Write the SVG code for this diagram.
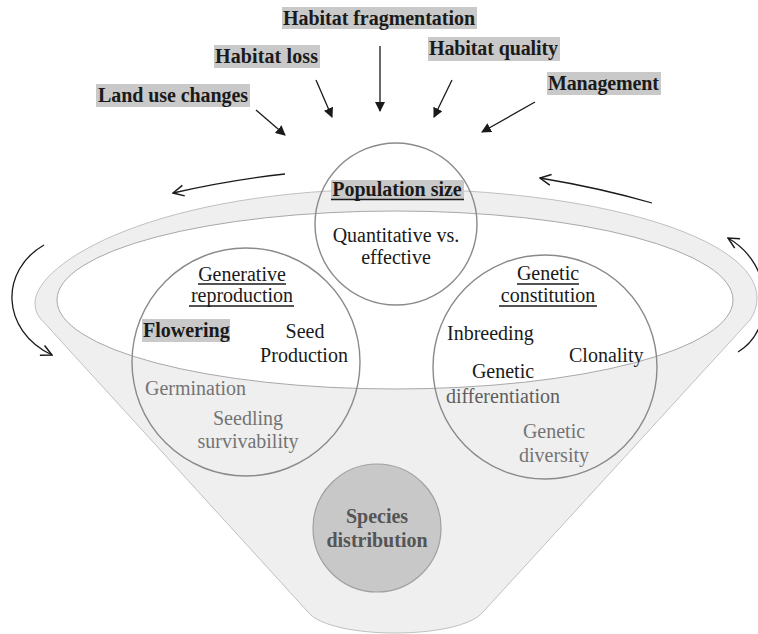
<svg xmlns="http://www.w3.org/2000/svg" width="758" height="634" viewBox="0 0 758 634">
<style>
text{font-family:'Liberation Serif','Times New Roman',serif;font-size:20px;fill:#1a1a1a}
.b{font-weight:bold}
.m{text-anchor:middle}
.g{fill:#747474}
.hl{fill:#c9c9c9}
.ul{stroke:#1a1a1a;stroke-width:1.3}
.c{fill:none;stroke:#8a8a8a;stroke-width:1.4}
.arr{fill:none;stroke:#1a1a1a;stroke-width:1.3}
</style>
<defs>
<marker id="fa" viewBox="0 0 10 10" refX="9" refY="5" markerWidth="10" markerHeight="10" markerUnits="userSpaceOnUse" orient="auto">
<path d="M0,0 L10,5 L0,10 Z" fill="#1a1a1a"/>
</marker>
<marker id="oa" viewBox="0 0 12 12" refX="11" refY="6" markerWidth="13" markerHeight="13" markerUnits="userSpaceOnUse" orient="auto">
<path d="M1,1 L11,6 L1,11" fill="none" stroke="#1a1a1a" stroke-width="1.4"/>
</marker>
</defs>
<g id="funnel">
<path d="M40,318 L308,612 C330,640 460,640 483,612 L750,320 Q757,310 757,298 C757,237 595,189 395,189 C155,189 35,263 35,303 Q35,312 40,318 Z" fill="#efefef" stroke="#c0c0c0" stroke-width="1"/>
<ellipse cx="395" cy="300" rx="338" ry="89" fill="#ffffff" stroke="#a8a8a8" stroke-width="1"/>
</g>
<g id="labels">
<g id="land-use"><rect class="hl" x="96" y="84" width="154" height="23"/><text class="b" x="98" y="102" textLength="150">Land use changes</text></g>
<g id="habitat-loss"><rect class="hl" x="214" y="45" width="106" height="23"/><text class="b" x="215" y="63" textLength="103">Habitat loss</text></g>
<g id="habitat-frag"><rect class="hl" x="282" y="7" width="195" height="22"/><text class="b" x="283" y="25" textLength="192">Habitat fragmentation</text></g>
<g id="habitat-quality"><rect class="hl" x="428" y="37" width="132" height="24"/><text class="b" x="429" y="55" textLength="129">Habitat quality</text></g>
<g id="management"><rect class="hl" x="547" y="72" width="114" height="23"/><text class="b" x="548" y="90" textLength="111">Management</text></g>
</g>
<g id="connectors">
<line class="arr" x1="256" y1="110" x2="285" y2="135" marker-end="url(#fa)"/>
<line class="arr" x1="316" y1="80" x2="332" y2="117" marker-end="url(#fa)"/>
<line class="arr" x1="380" y1="46" x2="380" y2="111" marker-end="url(#fa)"/>
<line class="arr" x1="452" y1="80" x2="434" y2="117" marker-end="url(#fa)"/>
<line class="arr" x1="535" y1="102" x2="482" y2="132" marker-end="url(#fa)"/>
<path class="arr" d="M285,174 Q230,180 173,193" marker-end="url(#oa)"/>
<path class="arr" d="M652,203 Q600,188 540,178" marker-end="url(#oa)"/>
<path class="arr" d="M44,245 C0,270 0,330 52,355" marker-end="url(#oa)"/>
<path class="arr" d="M738,352 C775,330 775,265 728,238" marker-end="url(#oa)"/>
</g>
<g id="population-size">
<circle class="c" cx="396" cy="224" r="81"/>
<rect class="hl" x="331" y="180" width="133" height="20"/>
<text class="b m" x="397" y="196">Population size</text>
<line class="ul" x1="331" y1="199.5" x2="464" y2="199.5"/>
<text class="m" x="396" y="242">Quantitative vs.</text>
<text class="m" x="396" y="264">effective</text>
</g>
<g id="generative-reproduction">
<circle class="c" cx="246" cy="362" r="114"/>
<text class="m" x="242" y="281">Generative</text>
<line class="ul" x1="198" y1="284" x2="286" y2="284"/>
<text class="m" x="242" y="302">reproduction</text>
<line class="ul" x1="189" y1="306" x2="294" y2="306"/>
<rect class="hl" x="142" y="319" width="88" height="23"/>
<text class="b" x="143" y="337">Flowering</text>
<text class="m" x="305" y="338">Seed</text>
<text class="m" x="304" y="362">Production</text>
<text class="g" x="145" y="395">Germination</text>
<text class="g m" x="248" y="425">Seedling</text>
<text class="g m" x="248" y="448">survivability</text>
</g>
<g id="genetic-constitution">
<circle class="c" cx="545" cy="367" r="112"/>
<text class="m" x="548" y="280">Genetic</text>
<line class="ul" x1="517" y1="284" x2="579" y2="284"/>
<text class="m" x="548" y="302">constitution</text>
<line class="ul" x1="499" y1="306" x2="597" y2="306"/>
<text x="447" y="340">Inbreeding</text>
<text x="569" y="362">Clonality</text>
<text class="m" x="503" y="378">Genetic</text>
<text class="m" x="503" y="403" style="fill:#5e5e5e">differentiation</text>
<text class="g m" x="554" y="438">Genetic</text>
<text class="g m" x="554" y="462">diversity</text>
</g>
<g id="species-distribution">
<circle cx="377" cy="528" r="64" fill="#c8c8c8" stroke="#a0a0a0" stroke-width="1.2"/>
<text class="b m" x="377" y="523" style="fill:#555555">Species</text>
<text class="b m" x="377" y="547" style="fill:#555555">distribution</text>
</g>
</svg>
